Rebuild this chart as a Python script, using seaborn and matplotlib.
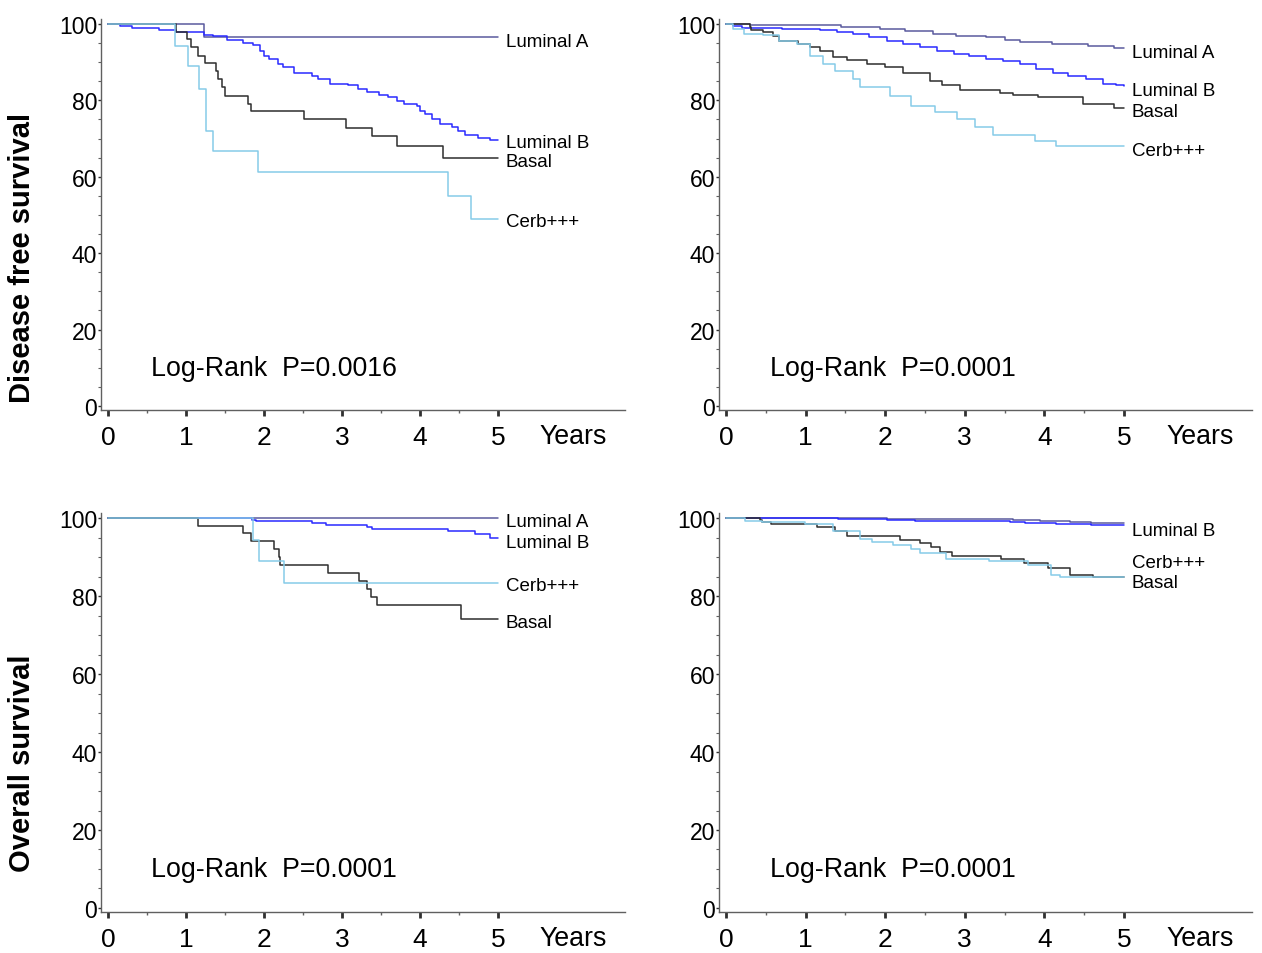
import numpy as np
import pandas as pd
import matplotlib
matplotlib.use("Agg")
import matplotlib.pyplot as plt
import seaborn as sns

# ---------------- data ----------------
groups = ["Luminal A", "Luminal B", "Basal", "Cerb+++"]
palette = {"Luminal A": "#5a5a9e", "Luminal B": "#2a2aff",
           "Basal": "#2e2e2e", "Cerb+++": "#86cbe8"}

# Disease free survival, cohort 1
dfs1_luma_t = [0, 1.23, 5.0]
dfs1_luma_s = [100, 96.5, 96.5]
dfs1_lumb_t = [0, 0.15, 0.31, 0.66, 0.87, 1.23, 1.35, 1.52, 1.73, 1.86, 1.95, 2.0, 2.06,
               2.18, 2.24, 2.38, 2.61, 2.69, 2.85, 3.08, 3.21, 3.32, 3.47, 3.59, 3.70,
               3.79, 3.96, 4.0, 4.06, 4.15, 4.26, 4.41, 4.49, 4.58, 4.75, 4.90, 5.0]
dfs1_lumb_s = [100, 99.5, 99, 98.4, 98, 97.2, 96.9, 95.8, 95, 94.5, 93, 91.7, 90.8,
               89.5, 88.7, 87.1, 86.5, 85.6, 84.3, 83.9, 83, 82.1, 81.4, 80.8, 79.9,
               79.1, 78.4, 77.3, 76.4, 75.1, 73.8, 72.9, 72.1, 71, 70.1, 69.5, 69.5]
dfs1_basal_t = [0, 0.87, 1.01, 1.06, 1.15, 1.25, 1.38, 1.41, 1.46, 1.50, 1.79, 1.84,
                2.51, 3.05, 3.38, 3.71, 4.29, 5.0]
dfs1_basal_s = [100, 97.8, 96.1, 93.9, 91.7, 89.7, 87.8, 85.6, 83.4, 81.2, 79.1, 77.1,
                75.0, 72.8, 70.7, 68.1, 64.8, 64.8]
dfs1_cerb_t = [0, 0.86, 1.03, 1.17, 1.26, 1.34, 1.92, 4.36, 4.65, 5.0]
dfs1_cerb_s = [100, 94.2, 88.9, 83.1, 72.1, 66.7, 61.2, 54.9, 49.0, 49.0]

# Disease free survival, cohort 2
dfs2_luma_t = [0, 0.30, 1.01, 1.45, 1.93, 2.25, 2.60, 2.89, 3.27, 3.50, 3.69, 4.10,
               4.55, 4.87, 5.0]
dfs2_luma_s = [100, 99.7, 99.6, 99.1, 98.7, 98.1, 97.4, 96.9, 96.5, 95.9, 95.2, 94.8,
               94.3, 93.6, 93.6]
dfs2_lumb_t = [0, 0.09, 0.20, 0.70, 1.18, 1.40, 1.60, 1.80, 2.02, 2.22, 2.44, 2.65,
               2.86, 3.05, 3.27, 3.48, 3.69, 3.90, 4.11, 4.30, 4.53, 4.74, 4.90, 5.0]
dfs2_lumb_s = [100, 99.5, 98.9, 98.6, 98.3, 97.9, 97.4, 96.5, 95.6, 94.8, 93.9, 93.0,
               92.1, 91.5, 90.8, 90.2, 89.5, 88.3, 87.1, 86.4, 85.6, 84.3, 83.9, 83.7]
dfs2_basal_t = [0, 0.30, 0.32, 0.47, 0.59, 0.66, 0.91, 1.06, 1.18, 1.35, 1.52, 1.77,
                2.0, 2.23, 2.56, 2.71, 2.94, 3.44, 3.61, 3.92, 4.49, 4.87, 5.0]
dfs2_basal_s = [100, 99.3, 98.5, 97.8, 96.9, 95.6, 94.8, 93.9, 93.0, 91.4, 90.6, 89.5,
                88.7, 87.2, 85.2, 83.9, 82.7, 81.9, 81.5, 80.8, 79.1, 78.0, 78.0]
dfs2_cerb_t = [0, 0.09, 0.22, 0.47, 0.66, 0.89, 1.05, 1.22, 1.37, 1.60, 1.68, 2.06,
               2.33, 2.63, 2.90, 3.13, 3.36, 3.88, 4.15, 5.0]
dfs2_cerb_s = [100, 98.7, 97.4, 97.1, 95.6, 94.8, 91.7, 89.5, 87.6, 85.6, 83.4, 81.2,
               78.6, 76.9, 75.1, 72.9, 71.0, 69.3, 68.0, 68.0]

# Overall survival, cohort 1
os1_luma_t = [0, 5.0]
os1_luma_s = [100, 100]
os1_lumb_t = [0, 1.85, 1.90, 2.61, 2.80, 3.32, 3.39, 4.36, 4.71, 4.90, 5.0]
os1_lumb_s = [100, 99.6, 99.3, 98.7, 98.2, 97.6, 97.2, 96.8, 95.9, 95.0, 95.0]
os1_basal_t = [0, 1.16, 1.73, 1.83, 2.13, 2.19, 2.21, 2.82, 3.22, 3.32, 3.37, 3.45,
               4.53, 5.0]
os1_basal_s = [100, 97.9, 96.1, 94.0, 92.1, 89.9, 87.9, 86.0, 83.9, 81.7, 79.8, 77.7,
               74.1, 74.1]
os1_cerb_t = [0, 1.86, 1.94, 2.26, 5.0]
os1_cerb_s = [100, 94.5, 88.9, 83.3, 83.3]

# Overall survival, cohort 2
os2_luma_t = [0, 0.45, 2.02, 3.61, 3.94, 4.32, 4.59, 5.0]
os2_luma_s = [100, 99.9, 99.7, 99.5, 99.3, 99.1, 98.8, 98.8]
os2_lumb_t = [0, 1.41, 2.02, 2.37, 3.57, 3.76, 4.15, 4.59, 5.0]
os2_lumb_s = [100, 99.8, 99.6, 99.3, 99.0, 98.7, 98.5, 98.2, 98.2]
os2_basal_t = [0, 0.43, 0.45, 0.57, 0.99, 1.14, 1.37, 1.52, 2.19, 2.44, 2.58, 2.69,
               2.84, 3.46, 3.74, 4.05, 4.32, 4.61, 5.0]
os2_basal_s = [100, 99.5, 99.1, 98.6, 98.5, 97.8, 96.8, 95.4, 94.5, 93.5, 92.5, 91.2,
               90.2, 89.5, 88.5, 87.2, 85.5, 85.0, 85.0]
os2_cerb_t = [0, 0.24, 0.45, 0.99, 1.35, 1.68, 1.83, 2.10, 2.33, 2.44, 2.77, 3.30,
              3.80, 4.09, 4.20, 5.0]
os2_cerb_s = [100, 99.3, 99.1, 98.5, 96.8, 94.7, 93.9, 93.0, 92.1, 91.1, 89.6, 88.9,
              87.9, 85.5, 84.8, 84.8]

# End-of-curve labels (text, y position) per panel
dfs1_labels = [("Luminal A", 95.3), ("Luminal B", 69.1), ("Basal", 63.9), ("Cerb+++", 48.2)]
dfs2_labels = [("Luminal A", 92.4), ("Luminal B", 82.5), ("Basal", 77.0), ("Cerb+++", 67.0)]
os1_labels = [("Luminal A", 99.0), ("Luminal B", 93.8), ("Cerb+++", 82.6), ("Basal", 73.1)]
os2_labels = [("Luminal B", 96.9), ("Cerb+++", 88.7), ("Basal", 83.6)]

pvalues = ["P=0.0016", "P=0.0001", "P=0.0001", "P=0.0001"]
x_ticks = [0, 1, 2, 3, 4, 5]
y_ticks = [0, 20, 40, 60, 80, 100]


def panel_frame(curves):
    rows = []
    for grp, (t, s) in zip(groups, curves):
        rows.append(pd.DataFrame({"time": t, "surv": s, "group": grp}))
    return pd.concat(rows, ignore_index=True)


panels = [
    (panel_frame([(dfs1_luma_t, dfs1_luma_s), (dfs1_lumb_t, dfs1_lumb_s),
                  (dfs1_basal_t, dfs1_basal_s), (dfs1_cerb_t, dfs1_cerb_s)]), dfs1_labels),
    (panel_frame([(dfs2_luma_t, dfs2_luma_s), (dfs2_lumb_t, dfs2_lumb_s),
                  (dfs2_basal_t, dfs2_basal_s), (dfs2_cerb_t, dfs2_cerb_s)]), dfs2_labels),
    (panel_frame([(os1_luma_t, os1_luma_s), (os1_lumb_t, os1_lumb_s),
                  (os1_basal_t, os1_basal_s), (os1_cerb_t, os1_cerb_s)]), os1_labels),
    (panel_frame([(os2_luma_t, os2_luma_s), (os2_lumb_t, os2_lumb_s),
                  (os2_basal_t, os2_basal_s), (os2_cerb_t, os2_cerb_s)]), os2_labels),
]

# ---------------- style ----------------
sns.set_style("ticks")
plt.rcParams["font.family"] = ["Liberation Sans", "DejaVu Sans"]
plt.rcParams["axes.linewidth"] = 1.0
plt.rcParams["text.color"] = "black"
plt.rcParams["xtick.labelcolor"] = "black"
plt.rcParams["ytick.labelcolor"] = "black"

W, H = 1262, 954
fig = plt.figure(figsize=(W / 100, H / 100), dpi=100)
fig.patch.set_facecolor("white")

# axes boxes in pixels: (left, right, top, bottom), plus x/y limits
boxes = [
    ((101, 625, 20, 411), (-0.09, 6.63), (-1.05, 101.3)),
    ((719, 1252, 20, 411), (-0.088, 6.61), (-1.05, 101.3)),
    ((101, 625, 514, 913), (-0.09, 6.63), (-1.03, 101.3)),
    ((719, 1252, 514, 913), (-0.088, 6.61), (-1.03, 101.3)),
]

spine_col = "#606060"
for (df, labels), (box, xl, yl), pv in zip(panels, boxes, pvalues):
    l, r, t, b = box
    ax = fig.add_axes([l / W, 1 - b / H, (r - l) / W, (b - t) / H])
    sns.lineplot(data=df, x="time", y="surv", hue="group", palette=palette,
                 estimator=None, drawstyle="steps-post", linewidth=1.1,
                 legend=False, ax=ax)
    ax.set_xlim(*xl)
    ax.set_ylim(*yl)
    ax.set_xlabel("")
    ax.set_ylabel("")
    for side in ["top", "right"]:
        ax.spines[side].set_visible(False)
    for side in ["left", "bottom"]:
        ax.spines[side].set_color(spine_col)
        ax.spines[side].set_linewidth(1.0)

    ax.set_xticks(x_ticks)
    ax.set_xticks(np.arange(0.5, 5.0, 1.0), minor=True)
    ax.set_yticks(y_ticks)
    ax.set_yticks(np.arange(0, 101, 5), minor=True)
    ax.tick_params(axis="x", which="major", length=4, width=2.0, color="#303030",
                   pad=7, labelsize=19, labelcolor="black")
    ax.tick_params(axis="x", which="minor", length=2.5, width=1.0, color=spine_col)
    ax.tick_params(axis="y", which="major", length=2.5, width=1.0, color="#303030",
                   pad=0.3, labelsize=16.5, labelcolor="black")
    ax.tick_params(axis="y", which="minor", length=2, width=0.8, color=spine_col)

    for name, ypos in labels:
        ax.text(5.1, ypos, name, fontsize=13.5, ha="left", va="center", color="black")

    ax.text(0.55, 10, "Log-Rank  " + pv, fontsize=19.3, ha="left", va="center",
            color="black")
    ax.annotate("Years", xy=(5.53, 0), xycoords=("data", "axes fraction"),
                xytext=(0, -19), textcoords="offset points",
                fontsize=19.3, ha="left", va="center", color="black")

fig.text(22 / W, 1 - 258 / H, "Disease free survival", rotation=90, fontsize=21,
         fontweight="bold", ha="center", va="center", color="black")
fig.text(22 / W, 1 - 763 / H, "Overall survival", rotation=90, fontsize=21,
         fontweight="bold", ha="center", va="center", color="black")

fig.savefig("out.png", dpi=100, facecolor="white")
